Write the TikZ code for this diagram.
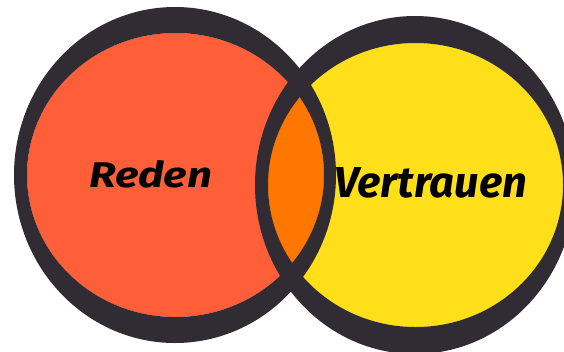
\documentclass[tikz,border=0pt]{standalone}
\usepackage{fontspec}
\setmainfont{Fira Sans}
\definecolor{ringdark}{RGB}{49,43,51}
\definecolor{redfill}{RGB}{255,95,56}
\definecolor{yellowfill}{RGB}{255,222,26}
\definecolor{lensfill}{RGB}{255,118,0}
\tikzset{
  ring/.style={fill=ringdark, even odd rule},
  label/.style={inner sep=0pt, anchor=base west, font=\bfseries\itshape}
}
\begin{document}
\begin{tikzpicture}[x=1pt,y=-1pt]
\useasboundingbox (0,0) rectangle (564,351);
% inner fills
\fill[redfill] (175.5,175) ellipse [x radius=148.5pt, y radius=142pt];
\fill[yellowfill] (415.5,185) ellipse [x radius=147.5pt, y radius=142pt];
\begin{scope}
  \clip (175.5,175) ellipse [x radius=148.5pt, y radius=142pt];
  \fill[lensfill] (415.5,185) ellipse [x radius=147.5pt, y radius=142pt];
\end{scope}
% rings
\fill[ring] (175,175) ellipse [x radius=161pt, y radius=168pt]
            (175.5,175) ellipse [x radius=148.5pt, y radius=142pt];
\fill[ring] (415,185) ellipse [x radius=160pt, y radius=169pt]
            (415.5,185) ellipse [x radius=147.5pt, y radius=142pt];
% labels
\node[label] (reden) at (89,187) {\resizebox{123pt}{27pt}{Reden}};
\node[label] (vertrauen) at (334,197) {\resizebox{193pt}{30pt}{Vertrauen}};
\end{tikzpicture}
\end{document}
